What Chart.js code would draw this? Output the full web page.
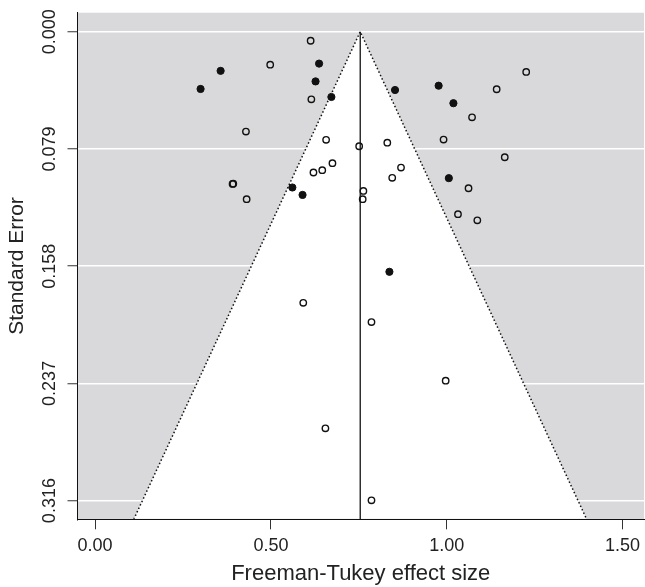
<!DOCTYPE html>
<html>
<head>
<meta charset="utf-8">
<script src="https://cdn.jsdelivr.net/npm/chart.js@4/dist/chart.umd.min.js"></script>
<style>
  html, body { margin: 0; padding: 0; background: #fff; }
  #wrap { width: 645px; height: 587px; }
</style>
</head>
<body>
<div id="wrap"><canvas id="funnel"></canvas></div>
<script>
// --- Data ---
const filledEffect = [0.300, 0.357, 0.627, 0.637, 0.672, 0.853, 0.977, 1.019, 0.561, 0.590, 1.006, 0.837];
const filledSE     = [0.0386, 0.0264, 0.0335, 0.0215, 0.0440, 0.0393, 0.0364, 0.0482, 0.1050, 0.1100, 0.0987, 0.1618];

const openEffect = [0.613, 0.498, 0.615, 0.429, 0.657, 0.751, 0.831, 0.675, 0.646, 0.621,
                    0.870, 0.845, 0.391, 0.393, 0.431, 0.763, 0.761, 1.226, 1.142, 1.072,
                    0.991, 1.165, 1.062, 1.032, 1.087, 0.592, 0.786, 0.997, 0.655, 0.786];
const openSE     = [0.0061, 0.0222, 0.0456, 0.0673, 0.0729, 0.0772, 0.0748, 0.0886, 0.0933, 0.0949,
                    0.0916, 0.0985, 0.1026, 0.1024, 0.1129, 0.1073, 0.1129, 0.0271, 0.0388, 0.0577,
                    0.0727, 0.0846, 0.1055, 0.1230, 0.1271, 0.1827, 0.1957, 0.2352, 0.2673, 0.3158];

const xTicks = [0, 0.5, 1.0, 1.5];
const yTicks = [0, 0.079, 0.158, 0.237, 0.316];

const pooledEffect = 0.754;
const zCrit = 1.96;
const xRange = [-0.05, 1.561];
const seRange = [-0.0128, 0.3286];

// --- Helpers ---
const zip = (xs, ys) => xs.map((x, i) => ({ x: x, y: ys[i] }));
const seMax = seRange[1];
const funnelPts = [
    { x: pooledEffect - zCrit * seMax, y: seMax },
    { x: pooledEffect, y: 0 },
    { x: pooledEffect + zCrit * seMax, y: seMax }
];
const centrePts = [{ x: pooledEffect, y: 0 }, { x: pooledEffect, y: seMax }];

const FONT = "'Liberation Sans', Arial, sans-serif";
const INK = '#222';

// grey panel behind everything
const greyPanel = {
    id: 'greyPanel',
    beforeDraw(chart) {
        const { ctx, chartArea: a } = chart;
        ctx.save();
        ctx.fillStyle = '#d9d9db';
        ctx.fillRect(a.left, a.top, a.right - a.left, a.bottom - a.top);
        ctx.restore();
    }
};

new Chart(document.getElementById('funnel'), {
    type: 'scatter',
    data: {
        datasets: [
            {
                data: zip(filledEffect, filledSE),
                pointRadius: 3.6, pointBorderWidth: 1,
                pointBackgroundColor: '#111', pointBorderColor: '#111'
            },
            {
                data: zip(openEffect, openSE),
                pointRadius: 3.2, pointBorderWidth: 1.4,
                pointBackgroundColor: 'rgba(0,0,0,0)', pointBorderColor: '#111'
            },
            {
                type: 'line', data: centrePts,
                borderColor: '#111', borderWidth: 1.3, pointRadius: 0, fill: false
            },
            {
                type: 'line', data: funnelPts,
                borderColor: '#111', borderWidth: 1.5, borderDash: [1.5, 2.3],
                pointRadius: 0, tension: 0,
                backgroundColor: '#fff', fill: { value: seMax },
                clip: { left: 0, top: 0, right: 0, bottom: -0.6 }
            }
        ]
    },
    options: {
        responsive: true,
        maintainAspectRatio: false,
        animation: false,
        layout: { autoPadding: false, padding: { left: 0, top: 12.7, right: 1, bottom: 0 } },
        plugins: { legend: { display: false }, tooltip: { enabled: false } },
        scales: {
            x: {
                type: 'linear',
                min: xRange[0], max: xRange[1],
                afterBuildTicks: s => { s.ticks = xTicks.map(v => ({ value: v })); },
                afterFit: s => { s.height = 67.7; s.paddingLeft = 0; s.paddingRight = 0; },
                grid: { drawOnChartArea: false, drawTicks: true, tickLength: 10, tickColor: '#333', tickWidth: 1 },
                border: { display: true, color: '#111', width: 1 },
                ticks: {
                    color: INK, padding: 6,
                    font: { family: FONT, size: 18 },
                    maxRotation: 0, minRotation: 0,
                    callback: v => v.toFixed(2)
                },
                title: {
                    display: true, text: 'Freeman-Tukey effect size', color: INK,
                    font: { family: FONT, size: 22 },
                    padding: { top: 0, bottom: 0 }
                }
            },
            y: {
                type: 'linear',
                reverse: true,
                min: seRange[0], max: seRange[1],
                afterBuildTicks: s => { s.ticks = yTicks.map(v => ({ value: v })); },
                afterFit: s => { s.width = 77.5; s.paddingTop = 0; s.paddingBottom = 0; },
                grid: { color: '#ffffff', lineWidth: 1.5, drawTicks: true, tickLength: 10, tickColor: '#333', tickWidth: 1 },
                border: { display: true, color: '#111', width: 1 },
                ticks: {
                    color: INK, padding: -5,
                    font: { family: FONT, size: 18 },
                    minRotation: 90, maxRotation: 90,
                    crossAlign: 'center',
                    callback: v => v.toFixed(3)
                },
                title: {
                    display: true, text: 'Standard Error', color: INK,
                    font: { family: FONT, size: 21 },
                    padding: { top: 5, bottom: 0 }
                }
            }
        }
    },
    plugins: [greyPanel]
});
</script>
</body>
</html>
